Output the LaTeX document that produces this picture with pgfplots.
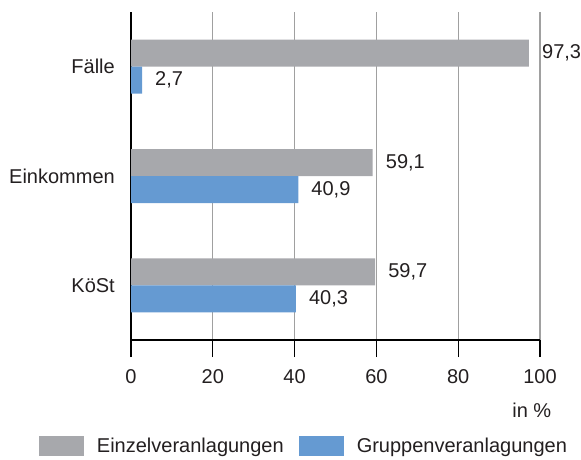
\documentclass[border=0pt]{standalone}
\usepackage{fontspec}
\setmainfont{Liberation Sans}
\usepackage{pgfplots}
\pgfplotsset{compat=1.18}
\definecolor{barGray}{RGB}{167,168,172}
\definecolor{barBlue}{RGB}{101,154,210}
\definecolor{gridGray}{RGB}{160,160,160}
\definecolor{txt}{RGB}{35,31,32}
\begin{document}
\begin{tikzpicture}[font=\fontsize{20}{24}\selectfont]
\useasboundingbox (0,0) rectangle (581pt,-459pt);
\begin{axis}[
  at={(131pt,-340pt)}, anchor=south west,
  scale only axis, width=409pt, height=328pt,
  xbar, bar width=27pt,
  xmin=0, xmax=100, ymin=-0.5, ymax=2.5,
  enlargelimits=false, clip=false,
  /pgf/number format/assume math mode=true,
  axis x line*=bottom, axis y line*=left,
  axis line style={black, line width=1.3pt},
  xtick={0,20,40,60,80,100},
  ytick=\empty,
  extra y ticks={0,1,2}, extra y tick labels={KöSt,Einkommen,Fälle},
  extra y tick style={major tick length=0pt, tick align=inside, ymajorgrids=false,
     yticklabel style={inner sep=0pt, anchor=east, xshift=-16pt, text=txt}},
  xmajorgrids, grid style={gridGray, line width=1.2pt},
  tick align=outside,
  major tick length=17pt,
  tick style={black, line width=1.3pt},
  xticklabel style={inner sep=0pt, anchor=north, yshift=-12pt, text=txt},
  xlabel={in \%},
  xlabel style={at={(0.98,-0.213)}, anchor=center, inner sep=0pt, text=txt},
  nodes near coords, point meta=x,
  nodes near coords={\pgfmathprintnumber[fixed,fixed zerofill,precision=1,use comma]{\pgfplotspointmeta}},
  every node near coord/.append style={anchor=west, inner sep=0pt, xshift=13pt, text=txt},
  legend style={at={(-0.225,-0.323)}, anchor=west, draw=none, fill=none,
    inner sep=0pt, outer sep=0pt, legend columns=2,
    nodes={inner sep=0pt, text=txt},
    /tikz/every odd column/.append style={column sep=13pt},
    /tikz/every even column/.append style={column sep=15pt}},
  legend image code/.code={\fill[#1] (0pt,-10pt) rectangle (45pt,10pt);},
]
\addplot[fill=barGray, draw=none, bar shift=13.5pt] coordinates {(59.7,0) (59.1,1) (97.3,2)};
\addplot[fill=barBlue, draw=none, bar shift=-13.5pt] coordinates {(40.3,0) (40.9,1) (2.7,2)};
\legend{Einzelveranlagungen, Gruppenveranlagungen}
\end{axis}
\end{tikzpicture}
\end{document}
